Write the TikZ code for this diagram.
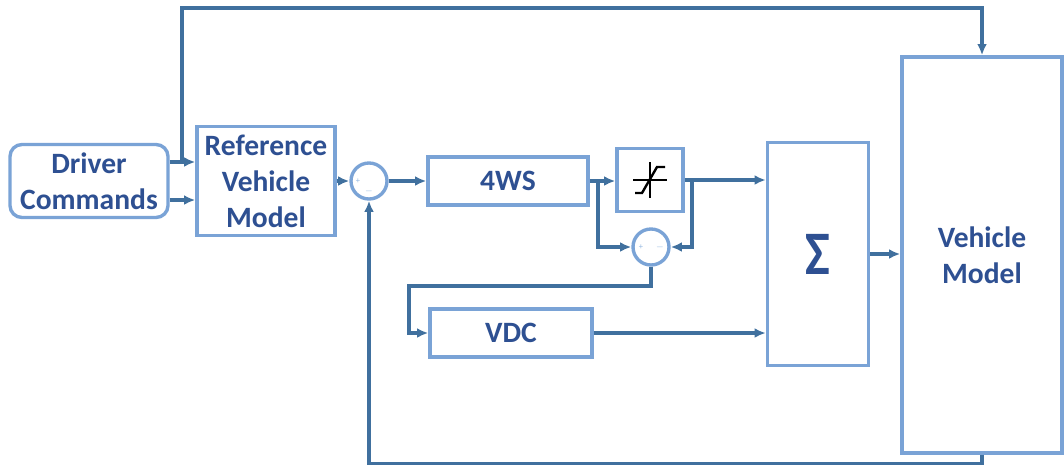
\documentclass[tikz,border=0pt]{standalone}
\usepackage{fontspec}
\setmainfont{Carlito}
\usepackage{xcolor}
\usepackage{tikz}
\usetikzlibrary{positioning,arrows.meta,calc}

\definecolor{boxblue}{RGB}{122,163,214}
\definecolor{lineblue}{RGB}{64,112,158}
\definecolor{textblue}{RGB}{46,80,146}
\definecolor{signblue}{RGB}{150,185,225}

\begin{document}
\begin{tikzpicture}[
    x=0.025cm, y=-0.025cm,
    box/.style={draw=boxblue,line width=2.4pt,fill=white,align=center,inner sep=0pt,
      font=\fontsize{21}{25.5}\selectfont\bfseries,text=textblue},
    sumnode/.style={draw=boxblue,line width=2.4pt,fill=white,circle,minimum size=0.9cm,inner sep=0pt},
    sign/.style={font=\fontsize{6}{6}\selectfont,text=signblue,inner sep=0pt},
    link/.style={-{Latex[length=8pt,width=7pt]},draw=lineblue,line width=2.4pt},
  ]
    \useasboundingbox (0,0) rectangle (1064,468);

    % blocks
    \node[box,rounded corners=0.3cm,minimum width=3.95cm,minimum height=1.825cm] (driver) at (89,181) {Driver\\Commands};
    \node[box,minimum width=3.45cm,minimum height=2.725cm] (refmodel) at (266,181) {Reference\\Vehicle\\Model};
    \node[sumnode] (sumA) at (369,181) {};
    \node[box,minimum width=4cm,minimum height=1.2cm] (fourws) at (508,181) {4WS};
    \node[box,minimum width=1.65cm,minimum height=1.575cm] (sat) at (650,180) {};
    \node[sumnode] (sumB) at (651,247) {};
    \node[box,minimum width=4.05cm,minimum height=1.2cm] (vdc) at (511,333) {VDC};
    \node[box,minimum width=2.525cm,minimum height=5.575cm,font=\fontsize{44}{44}\selectfont\bfseries] (sigma) at (818,254) {\scalebox{0.85}[1]{Σ}};
    \node[box,minimum width=4cm,minimum height=9.9cm] (vehmodel) at (982,255) {Vehicle\\Model};

    % saturation symbol
    \draw[line width=1.7pt] ($(sat.center)+(-17,0)$) -- ++(34,0);
    \draw[line width=1.7pt] ($(sat.center)+(0,-18)$) -- ++(0,36);
    \draw[line width=1.7pt] ($(sat.center)+(-15,13)$) -- ++(7,0) -- ++(15,-26) -- ++(8,0);

    % signs
    \node[sign] at ($(sumA.center)+(-11,0)$) {+};
    \node[sign] at ($(sumA.center)+(0,10)$) {$-$};
    \node[sign] at ($(sumB.center)+(-10,0)$) {+};
    \node[sign] at ($(sumB.center)+(9,0)$) {$-$};

    % taps
    \coordinate (tapA) at (182,162);
    \coordinate (tapB) at (598,181);
    \coordinate (tapC) at (692,180);

    % connectors
    \draw[link] ([yshift=0.475cm]driver.east) -- ([yshift=0.475cm]refmodel.west);
    \draw[link] ([yshift=-0.475cm]driver.east) -- ([yshift=-0.475cm]refmodel.west);
    \draw[link] (tapA) |- (vehmodel.north |- 0,8) -- (vehmodel.north);
    \draw[link] (refmodel) -- (sumA);
    \draw[link] (sumA) -- (fourws);
    \draw[link] (fourws.east) -- (fourws.east -| sat.west);
    \draw[link] (tapB) |- (sumB);
    \draw[link] (tapC) |- (sumB);
    \draw[link] (sat.east) -- (sat.east -| sigma.west);
    \draw[link] (sumB.south) |- (409,286) |- (vdc.west);
    \draw[link] (vdc.east) -- (vdc.east -| sigma.west);
    \draw[link] (sigma.east) -- (sigma.east -| vehmodel.west);
    \draw[link] (vehmodel.south) -- ++(0,9) -| (sumA.south);
  \end{tikzpicture}
\end{document}
